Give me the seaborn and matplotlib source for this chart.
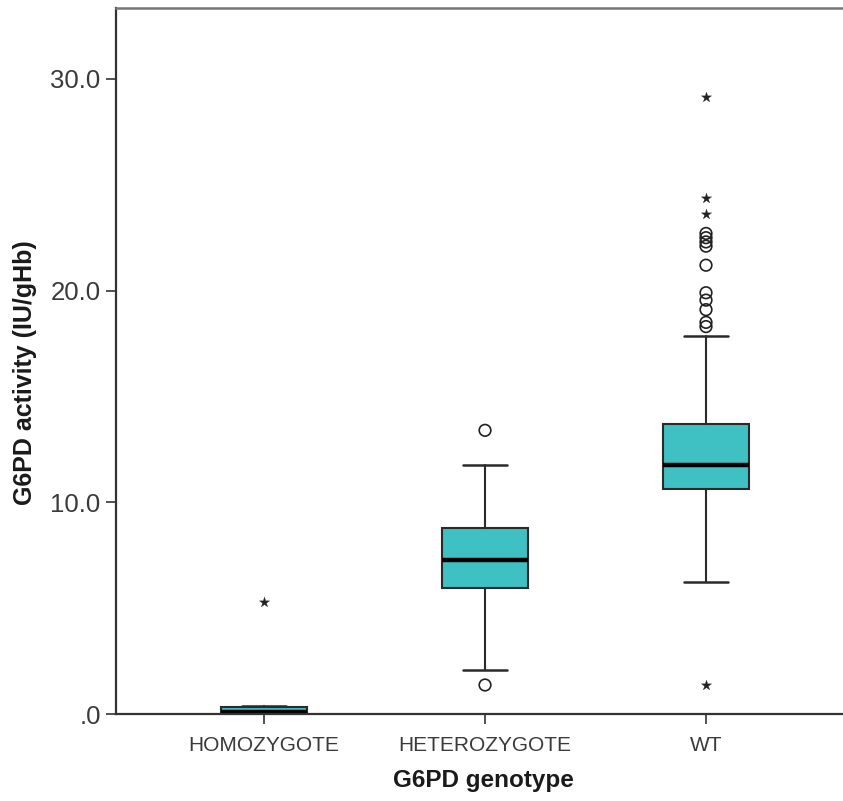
import matplotlib
matplotlib.use('Agg')
import matplotlib.pyplot as plt
import seaborn as sns

# G6PD activity by genotype
genotypes = ['HOMOZYGOTE', 'HETEROZYGOTE', 'WT']
q1 = [0.0, 5.95, 10.63]
median = [0.10, 7.27, 11.76]
q3 = [0.33, 8.79, 13.70]
whisker_low = [0.0, 2.08, 6.24]
whisker_high = [0.39, 11.76, 17.86]

# outliers (circles) and extreme values (stars)
outliers = {
    'HOMOZYGOTE': [],
    'HETEROZYGOTE': [13.4, 1.37],
    'WT': [18.3, 18.5, 19.1, 19.55, 19.9, 21.2, 22.1, 22.3, 22.5, 22.7],
}
extremes = {
    'HOMOZYGOTE': [5.3],
    'HETEROZYGOTE': [],
    'WT': [29.15, 24.37, 23.6, 1.37],
}

sns.set_theme(style='white')
plt.rcParams['font.family'] = ['Liberation Sans', 'DejaVu Sans']

fig = plt.figure(figsize=(8.43, 8.01), dpi=100)
ax = fig.add_axes([116 / 843, 87 / 801, 1 - 116 / 843, 706 / 801])

stats = []
for i, g in enumerate(genotypes):
    stats.append({'label': g, 'q1': q1[i], 'med': median[i], 'q3': q3[i],
                  'whislo': whisker_low[i], 'whishi': whisker_high[i],
                  'fliers': []})

ax.bxp(stats, positions=range(len(genotypes)), widths=0.39, capwidths=0.2,
       patch_artist=True, showfliers=False,
       boxprops=dict(facecolor='#3fc0c2', edgecolor='#2a2a2a', linewidth=1.5),
       medianprops=dict(color='black', linewidth=3.2),
       whiskerprops=dict(color='#2a2a2a', linewidth=1.5),
       capprops=dict(color='#2a2a2a', linewidth=1.8))

ox, oy, ex, ey = [], [], [], []
for i, g in enumerate(genotypes):
    ox += [i] * len(outliers[g])
    oy += outliers[g]
    ex += [i] * len(extremes[g])
    ey += extremes[g]

sns.scatterplot(x=ox, y=oy, ax=ax, marker='o', s=70, facecolor='none',
                edgecolor='#222222', linewidth=1.2, zorder=5)
sns.scatterplot(x=ex, y=ey, ax=ax, marker='*', s=60, color='#222222',
                edgecolor='#222222', linewidth=0.2, zorder=5)

ax.set_xlim(-0.67, 2.62)
ax.set_ylim(0, 33.35)
ax.set_xticks(range(len(genotypes)))
ax.set_xticklabels(genotypes)
ax.set_yticks([0, 10, 20, 30])
ax.set_yticklabels(['.0', '10.0', '20.0', '30.0'])

ax.tick_params(axis='both', which='major', direction='out', length=7, width=1.2,
               color='#333333', labelcolor='#3a3a3a', bottom=True, left=True)
ax.tick_params(axis='x', labelsize=15, pad=9)
ax.tick_params(axis='y', labelsize=18.5, pad=4)

for side in ['left', 'bottom']:
    ax.spines[side].set_color('#333333')
    ax.spines[side].set_linewidth(1.6)
ax.spines['top'].set_color('#777777')
ax.spines['top'].set_linewidth(1.8)
ax.spines['right'].set_visible(False)

ax.set_xlabel('G6PD genotype', fontsize=17.5, fontweight='bold', color='#1a1a1a')
ax.set_ylabel('G6PD activity (IU/gHb)', fontsize=18, fontweight='bold', color='#1a1a1a')
ax.xaxis.set_label_coords(0.505, -0.078)
ax.yaxis.set_label_coords(-0.108, 0.484)

fig.savefig('out.png', dpi=100)
plt.close(fig)
